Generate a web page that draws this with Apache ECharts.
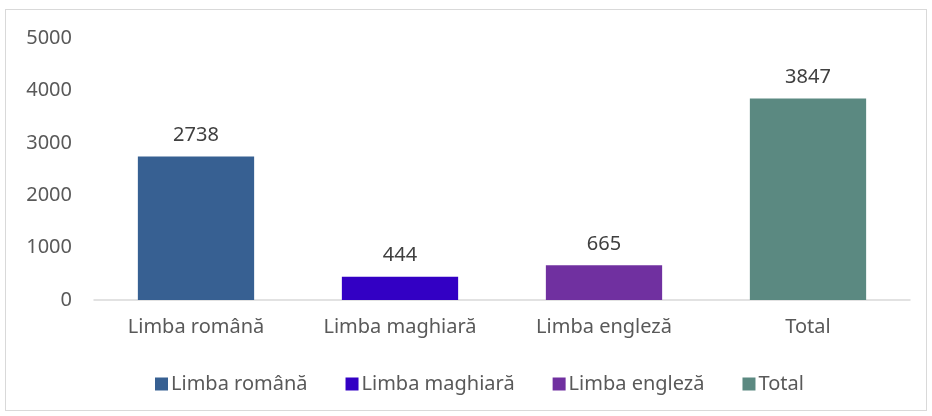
<!DOCTYPE html>
<html>
<head>
<meta charset="utf-8">
<script src="https://cdn.jsdelivr.net/npm/echarts@6/dist/echarts.min.js"></script>
<style>
  html, body { margin: 0; padding: 0; background: #fff; }
  #chart { width: 932px; height: 416px; }
  #frame { position: absolute; left: 5px; top: 9px; width: 920px; height: 400px; border: 1px solid #d9d9d9; pointer-events: none; }
</style>
</head>
<body>
<div id="chart"></div>
<div id="frame"></div>
<script>
const categories = ["Limba română", "Limba maghiară", "Limba engleză", "Total"];
const values = [2738, 444, 665, 3847];
const colors = ["#376092", "#3300c4", "#7030a0", "#5b8981"];
const yTicks = { min: 0, max: 5000, interval: 1000 };

const chart = echarts.init(document.getElementById("chart"));
const font = "Noto Sans, sans-serif";
const fs = 20;

// one series per category, so each bar gets its own legend entry
const series = categories.map((name, i) => ({
  name: name,
  type: "bar",
  stack: "all",
  barWidth: "57%",
  data: values.map((v, j) => (j === i ? v : null)),
  itemStyle: { color: colors[i] },
  label: {
    show: true,
    position: "top",
    distance: 11,
    color: "#404040",
    fontSize: fs,
    fontFamily: font,
  },
}));

chart.setOption({
  animation: false,
  grid: { left: 94, right: 22, top: 38, bottom: 116 },
  legend: {
    data: categories,
    bottom: 17,
    left: 150,
    icon: "rect",
    itemWidth: 13,
    itemHeight: 13,
    itemGap: 38,
    textStyle: { color: "#595959", fontSize: fs, fontFamily: font, padding: [0, 0, 0, -2] },
  },
  xAxis: {
    type: "category",
    data: categories,
    axisTick: { show: false },
    axisLine: { lineStyle: { color: "#d9d9d9", width: 1.5 } },
    axisLabel: { color: "#595959", fontSize: fs, fontFamily: font, margin: 17 },
  },
  yAxis: {
    type: "value",
    min: yTicks.min,
    max: yTicks.max,
    interval: yTicks.interval,
    splitLine: { show: false },
    axisLine: { show: false },
    axisTick: { show: false },
    axisLabel: {
      color: "#595959", fontSize: fs, fontFamily: font, margin: 22,
      formatter: (v) => String(v),
    },
  },
  series: series,
});
</script>
</body>
</html>
